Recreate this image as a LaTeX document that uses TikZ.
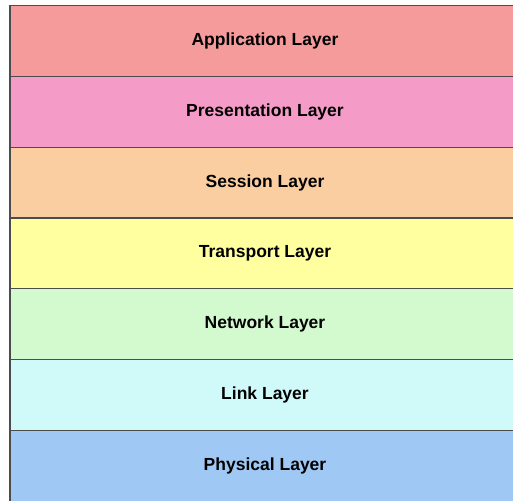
\documentclass[tikz,border=0pt]{standalone}
\usepackage{fontspec}
\setmainfont{Liberation Sans}
\usetikzlibrary{positioning}
\definecolor{appcol}{RGB}{245,155,155}
\definecolor{prescol}{RGB}{245,155,200}
\definecolor{sesscol}{RGB}{250,206,160}
\definecolor{transcol}{RGB}{255,255,160}
\definecolor{netcol}{RGB}{210,250,206}
\definecolor{linkcol}{RGB}{208,250,250}
\definecolor{physcol}{RGB}{160,200,245}
\tikzset{
	every node/.style = {font=\bfseries\fontsize{17.5}{20}\selectfont},
	layer/.style = {draw=black!70, line width=1.2pt, minimum width=510pt,
		minimum height=70.8pt, inner sep=0pt, outer sep=0pt}
}

\begin{document}
\begin{tikzpicture}[x=1pt,y=1pt]
	\useasboundingbox (0,0) rectangle (513,-500);
	\clip (0,0) rectangle (513,-500);
	\node[layer, fill=appcol, anchor=north west] (app) at (10,-5.6) {Application Layer};
	\node[layer, fill=prescol, below=0pt of app] (pres) {Presentation Layer};
	\node[layer, fill=sesscol, below=0pt of pres] (sess) {Session Layer};
	\node[layer, fill=transcol, below=0pt of sess] (trans) {Transport Layer};
	\node[layer, fill=netcol, below=0pt of trans] (net) {Network Layer};
	\node[layer, fill=linkcol, below=0pt of net] (link) {Link Layer};
	\node[layer, fill=physcol, below=0pt of link] (phys) {Physical Layer};
\end{tikzpicture}
\end{document}
